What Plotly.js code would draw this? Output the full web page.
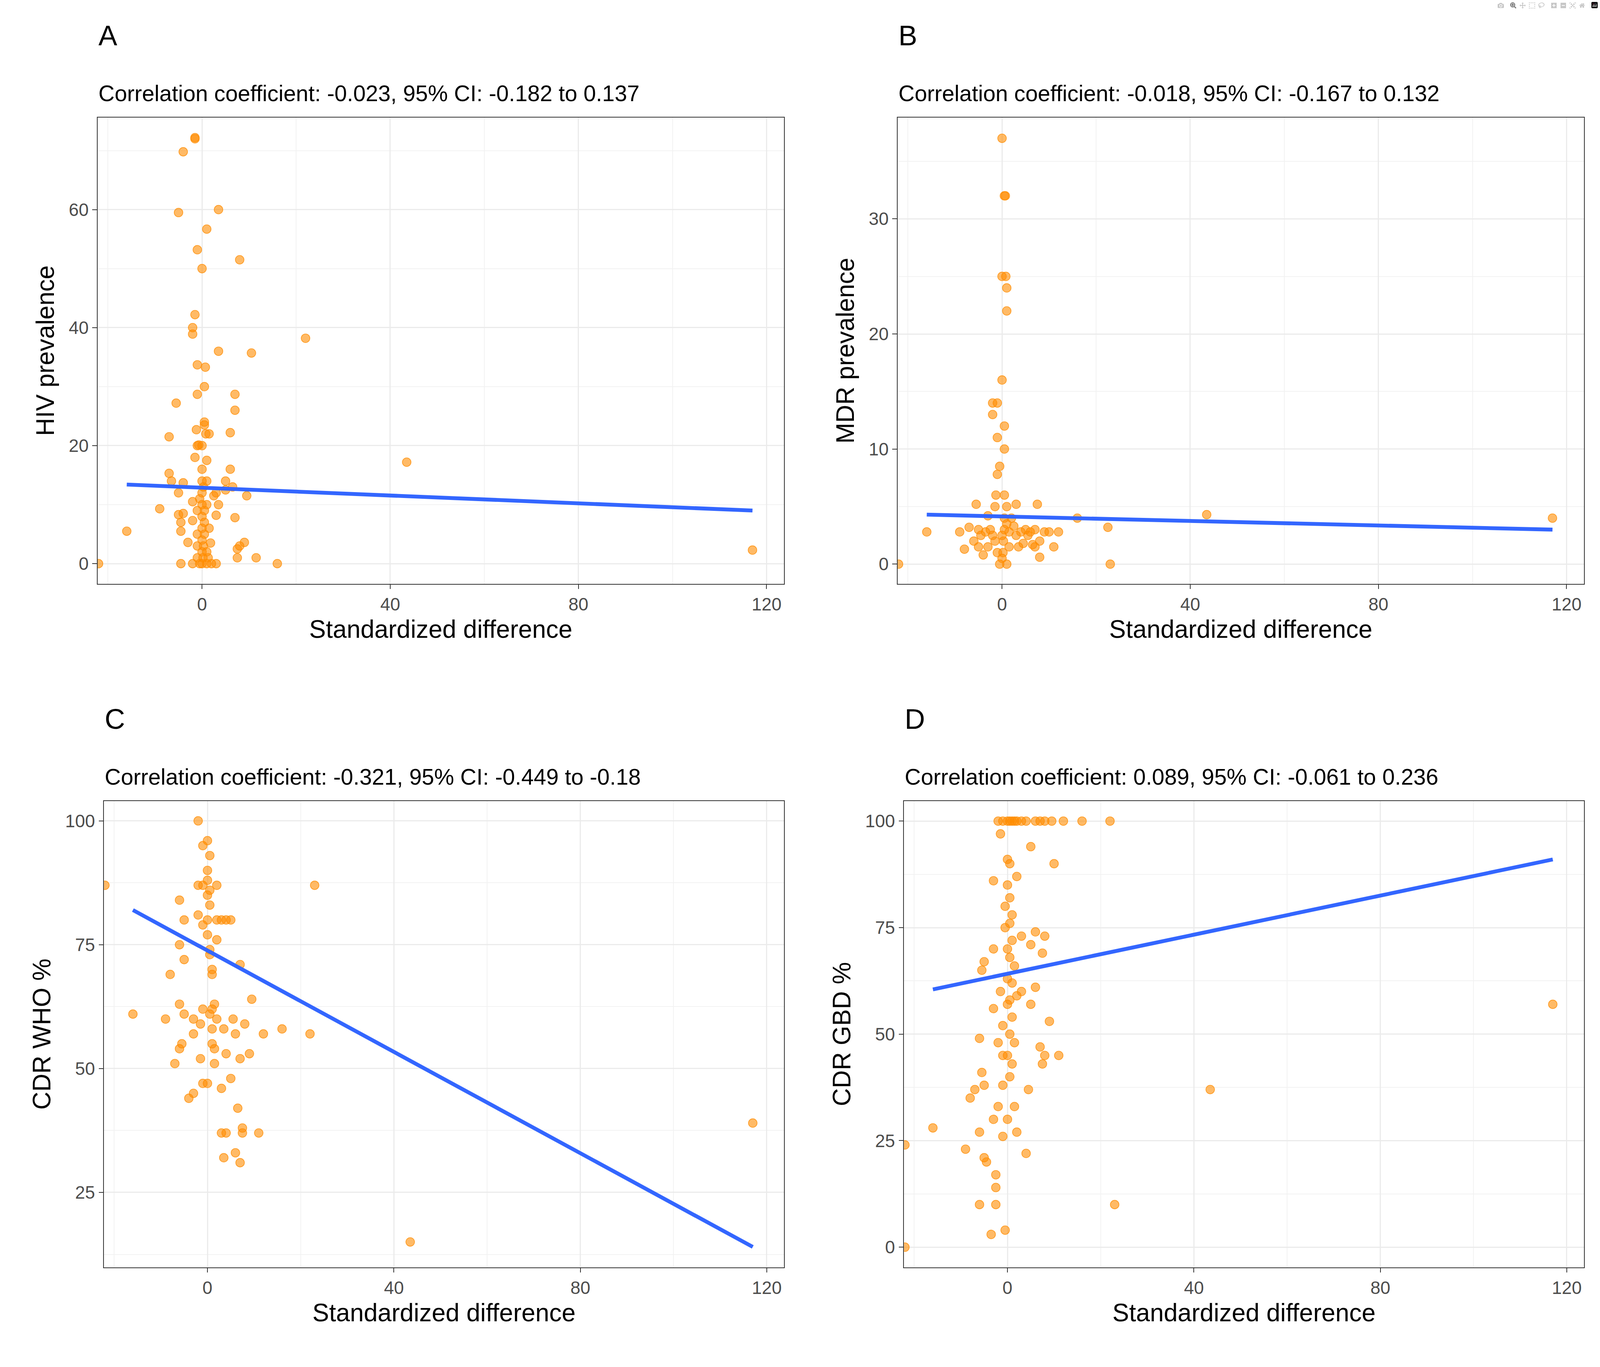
<!DOCTYPE html>
<html>
<head>
<meta charset="utf-8">
<script src="https://cdn.plot.ly/plotly-3.0.1.min.js"></script>
<style>html,body{margin:0;padding:0;background:#fff;overflow:hidden}#plot{width:100vw;height:100vh}</style>
</head>
<body>
<div id="plot"></div>
<script>
//Point data for each panel
var hivX = [-22,-16,-9,-7,-7,-6.5,-5.5,-5,-5,-5,-4.5,-4.5,-4.5,-4,-4,-4,-3,-2,-2,-2,-2,-2,-1.5,-1.5,-1.5,-1.5,-1.2,-1,-1,-1,-1,-0.7,-0.5,0,0,0,0,0,0,0,0,0,0,0.2,0.3,0.5,0.5,0.5,0.3,0.5,0.5,0.5,0.7,0.8,1,1,1.5,1.3,1.5,1.8,2,2.5,3,3,3,3.5,3.5,3.5,5,5,6,6,6.5,7,7,7,7.5,7.5,8,8,9,9.5,10.5,11.5,16,22,43.5,117,-0.5,-1,-1,-1,-1,1,1,1,1,0];
var hivY = [0,5.5,9.3,21.5,15.3,14,27.2,8.3,12,59.5,7,5.5,0,69.8,8.5,13.7,3.6,10.5,0,7.3,40,38.9,72,72.2,18,42.2,22.7,33.7,28.7,53.2,20,20.1,11,50,0,2,4,6,8,10,12,14,16,1,3,5,7,9,13,24,23.5,30,33.3,22,17.5,56.7,22,1,6,3.5,0,11.5,8.2,0,12,10,36,60,14,12.5,16,22.2,13,26,28.7,7.8,1,2.5,51.5,3,3.6,11.5,35.7,1,0,38.2,17.2,2.3,0,1,3,5,9,0,2,10,14,20];

var mdrX = [-22,-16,-9,-8,-7,-6,-5.5,-5,-5,-4.5,-4,-3.5,-3,-3,-2.5,-2,-2,-1.5,-1.5,-1.3,-1,-1,-1,-0.5,-0.5,0,0,0,0.2,0.3,0.5,0.5,0.5,0.5,0.7,0.8,1,1,0.5,0.5,1,1,1.5,1.5,2,2.5,3,3,3.5,4,4.5,5,5.5,6,6.5,7,7,7.5,8,8,9,10,11,12,16,22.5,23,43.5,117,0,-1,1,0,-2];
var mdrY = [0,2.8,2.8,1.3,3.2,2,5.2,1.5,3,2.5,0.8,2.8,1.5,4.2,3,14,13,2,5,6,7.8,11,14,8.5,0,16,25,37,1,2,3,4,6,32,32,25,24,22,12,10,5,0,2.8,1.5,4,3.3,5.2,2.5,1.5,2.8,1.8,3,2.5,2.8,1.7,1.5,3,5.2,0.6,2,2.8,2.8,1.5,2.8,4,3.2,0,4.3,4,0.5,1,3.5,2.5,2.5];

var whoX = [-22,-16,-9,-8,-7,-6,-6,-6,-6,-5.5,-5,-5,-5,-4,-3,-3,-3,-2,-2,-2,-1.5,-1.5,-1,-1,-1,-1,-1,0,0,0,0,0,0,0,0.5,0.5,0.5,0.5,0.5,0.5,1,1,1,1,1,1.5,1.5,1.5,2,2,2,3,3,3,3.5,3.5,4,4,4,5,5,5.5,6,6,6.5,7,7,7,7.5,7.5,8,9,9.5,11,12,16,22,23,43.5,117,2];
var whoY = [87,61,60,69,51,84,63,75,54,55,61,72,80,44,57,60,45,87,100,81,52,59,95,87,79,47,62,96,90,88,85,80,77,47,93,86,83,74,61,73,70,69,62,58,55,54,51,63,80,76,87,80,46,37,58,32,80,37,53,80,48,60,57,33,42,31,71,52,37,38,59,53,64,37,57,58,57,87,15,39,60];

var gbdX = [-22,-22,-16,-9,-8,-7,-6,-6,-6,-5.5,-5.5,-5,-5,-5,-4.5,-3.5,-3,-3,-3,-3,-2.5,-2.5,-2.5,-2,-2,-2,-1.5,-1.5,-1,-1,-1,-1,-1,-0.5,-0.5,-0.5,0,0,0,0,0,0,0,0,0.5,0.5,0.5,0.5,0.5,0.5,0.5,0.5,1,1,1,1,1,1,1.5,1.5,1.5,1.5,2,2,2,2,3,3,3,4,4,4.5,5,5,5,6,6,6,7,7,7.5,7.5,8,8,8,9,9.5,10,11,12,16,22,23,43.5,117];
var gbdY = [24,0,28,23,35,37,10,27,49,65,41,21,67,38,20,3,30,56,70,86,10,14,17,100,48,33,60,97,100,52,45,38,26,80,75,4,100,91,85,70,63,57,45,30,100,90,82,76,68,58,50,40,100,78,72,62,54,43,100,66,48,33,100,87,59,27,100,73,60,100,22,37,94,71,57,100,74,61,100,47,43,69,100,45,73,53,100,90,45,100,100,100,10,37,57];

//Fitted lines, end points
var lineX = [-16, 117];
var hivFit = [13.4, 9.0];
var mdrFit = [4.3, 3.0];
var whoFit = [82, 14];
var gbdFit = [60.5, 91];

var letters = ['A', 'B', 'C', 'D'];
var subtitles = [
    'Correlation coefficient: -0.023, 95% CI: -0.182 to 0.137',
    'Correlation coefficient: -0.018, 95% CI: -0.167 to 0.132',
    'Correlation coefficient: -0.321, 95% CI: -0.449 to -0.18',
    'Correlation coefficient: 0.089, 95% CI: -0.061 to 0.236'
];
var yTitles = ['HIV prevalence', 'MDR prevalence', 'CDR WHO %', 'CDR GBD %'];

//Everything is sized for a 5000 px wide page, then scaled to the real viewport
var W = window.innerWidth, H = window.innerHeight;
var s = W / 5000;
var font = 'Liberation Sans, Arial, sans-serif';
var panels = [
    {x: hivX, y: hivY, fit: hivFit, xd: [0.061, 0.490], yd: [0.573, 0.914], yr: [-3.4, 75.6], dt: 20},
    {x: mdrX, y: mdrY, fit: mdrFit, xd: [0.561, 0.990], yd: [0.573, 0.914], yr: [-1.7, 38.8], dt: 10},
    {x: whoX, y: whoY, fit: whoFit, xd: [0.065, 0.490], yd: [0.073, 0.414], yr: [9.9, 104], dt: 25},
    {x: gbdX, y: gbdY, fit: gbdFit, xd: [0.565, 0.990], yd: [0.073, 0.414], yr: [-4.7, 104.7], dt: 25}
];

var data = [];
var layout = {
    width: W, height: H,
    margin: {l: 0, r: 0, t: 0, b: 0},
    paper_bgcolor: '#fff', plot_bgcolor: '#fff',
    showlegend: false,
    font: {family: font, color: '#000'},
    annotations: []
};

panels.forEach(function(p, i) {
    var n = i + 1;
    var xa = 'x' + (n === 1 ? '' : n), ya = 'y' + (n === 1 ? '' : n);
    data.push({
        x: p.x, y: p.y, xaxis: xa, yaxis: ya, type: 'scatter', mode: 'markers',
        marker: {size: 27 * s, color: 'rgba(255,140,0,0.6)', line: {color: 'rgba(255,140,0,0.8)', width: 2 * s}}
    });
    data.push({
        x: lineX, y: p.fit, xaxis: xa, yaxis: ya, type: 'scatter', mode: 'lines',
        line: {color: '#3366ff', width: 12 * s}
    });
    var axisCommon = {
        showgrid: true, gridcolor: '#ebebeb', gridwidth: 4 * s,
        showline: true, linecolor: '#333', linewidth: 3 * s, mirror: true,
        ticks: 'outside', ticklen: 14 * s, tickwidth: 3 * s, tickcolor: '#333',
        tickfont: {size: 56 * s, color: '#4d4d4d', family: font},
        zeroline: false
    };
    layout['xaxis' + (n === 1 ? '' : n)] = Object.assign({}, axisCommon, {
        domain: p.xd, anchor: ya, range: [-22.2, 123.7], dtick: 40, tick0: 0,
        minor: {dtick: 20, showgrid: true, gridcolor: '#f2f2f2', gridwidth: 2 * s},
        title: {text: 'Standardized difference', font: {size: 78 * s, family: font}, standoff: 20 * s}
    });
    layout['yaxis' + (n === 1 ? '' : n)] = Object.assign({}, axisCommon, {
        domain: p.yd, anchor: xa, range: p.yr, dtick: p.dt, tick0: 0,
        minor: {dtick: p.dt / 2, showgrid: true, gridcolor: '#f2f2f2', gridwidth: 2 * s},
        title: {text: yTitles[i], font: {size: 78 * s, family: font}, standoff: 20 * s}
    });
    layout.annotations.push({
        text: letters[i], xref: 'paper', yref: 'paper', x: p.xd[0], y: p.yd[1] + 0.048,
        xanchor: 'left', yanchor: 'bottom', showarrow: false, font: {size: 88 * s, family: font}
    });
    layout.annotations.push({
        text: subtitles[i], xref: 'paper', yref: 'paper', x: p.xd[0], y: p.yd[1] + 0.008,
        xanchor: 'left', yanchor: 'bottom', showarrow: false, font: {size: 70 * s, family: font}
    });
});

Plotly.newPlot('plot', data, layout);
</script>
</body>
</html>
